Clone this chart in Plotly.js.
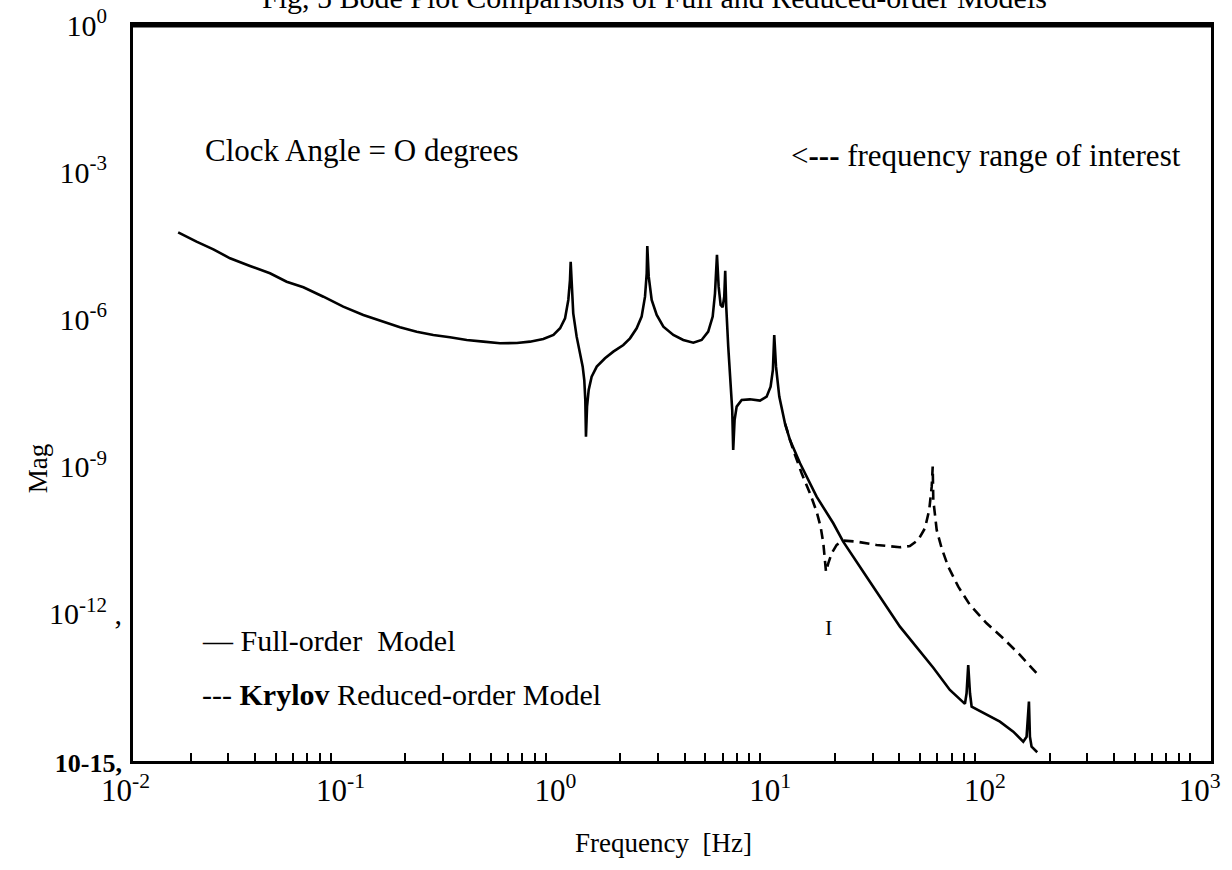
<!DOCTYPE html>
<html>
<head>
<meta charset="utf-8">
<script src="https://cdn.plot.ly/plotly-3.0.1.min.js"></script>
<style>html,body{margin:0;padding:0;background:#fff;}#chart{width:1232px;height:870px;}</style>
</head>
<body>
<div id="chart"></div>
<script>
// Full-order model (frequency in Hz, magnitude)
const fullFreq = [0.01751,0.02132,0.02554,0.03054,0.03783,0.04687,0.05604,0.06707,0.08312,0.1028,0.1275,0.1582,0.1889,0.2260,0.2700,0.3227,0.3865,0.4621,0.5524,0.6615,0.7609,0.8784,0.9792,1.0517,1.1089,1.1485,1.1693,1.1781,
  1.190,1.211,1.256,1.302,1.340,1.363,1.378,1.388,1.404,1.429,1.475,1.558,1.702,1.861,2.072,2.226,2.390,2.521,2.614,2.662,2.679,
  2.720,2.808,2.963,3.183,3.542,3.939,4.389,4.798,5.148,5.401,5.536,5.655,5.757,5.881,6.009,6.113,6.178,6.246,6.381,6.545,6.659,6.730,6.831,6.985,7.369,8.052,8.967,9.631,10.05,10.30,10.45,10.65,11.03,11.72,12.37,
  13.78,16.46,19.68,21.89,28.12,40.22,57.52,68.72,80.74,82.18,83.65,85.24,86.77,101.9,117.5,135.6,150.9,156.4,160.4,162.1,165.0,175.3];
const fullMag  = [5.96e-5,3.84e-5,2.68e-5,1.76e-5,1.23e-5,8.71e-6,5.87e-6,4.51e-6,2.90e-6,1.82e-6,1.23e-6,9.0e-7,6.9e-7,5.62e-7,4.82e-7,4.32e-7,3.81e-7,3.52e-7,3.26e-7,3.30e-7,3.52e-7,3.99e-7,4.82e-7,6.59e-7,1.05e-6,2.49e-6,6.35e-6,1.5e-5,
  4.65e-6,1.33e-6,4.45e-7,2.04e-7,1.09e-7,5.82e-8,2.28e-8,4.07e-9,1.67e-8,3.65e-8,6.81e-8,1.09e-7,1.61e-7,2.20e-7,3.01e-7,4.12e-7,6.59e-7,1.14e-6,2.90e-6,8.69e-6,3.13e-5,
  7.43e-6,2.49e-6,1.23e-6,7.11e-7,4.82e-7,3.81e-7,3.36e-7,3.81e-7,5.62e-7,1.14e-6,3.40e-6,2.06e-5,4.65e-6,1.97e-6,1.77e-6,2.90e-6,9.84e-6,1.82e-6,2.78e-7,5.82e-8,1.43e-8,2.18e-9,8.91e-9,1.67e-8,2.28e-8,2.35e-8,2.21e-8,2.67e-8,4.26e-8,9.31e-8,4.82e-7,1.09e-7,2.67e-8,7.64e-9,3.49e-9,
  1.17e-9,2.44e-10,7.00e-11,2.96e-11,5.71e-12,5.47e-13,7.94e-14,2.81e-14,1.46e-14,2.40e-14,9.06e-14,2.40e-14,1.28e-14,8.67e-15,6.34e-15,3.96e-15,2.48e-15,3.13e-15,1.62e-14,3.13e-15,1.96e-15,1.51e-15];
// Krylov reduced-order model
const redFreq = [11.72,12.37,12.81,14.02,15.33,16.46,17.18,17.69,18.01,18.20,18.65,19.34,20.41,21.89,25.26,31.29,40.22,44.75,48.94,52.58,55.06,56.55,57.15,57.52,59.65,62.92,67.50,75.19,85.24,101.9,121.7,145.6,177.2];
const redMag  = [7.64e-9,3.49e-9,2.18e-9,7.31e-10,2.86e-10,1.21e-10,5.97e-11,2.74e-11,1.07e-11,7.23e-12,1.07e-11,1.71e-11,2.53e-11,3.10e-11,2.96e-11,2.53e-11,2.27e-11,2.41e-11,3.20e-11,5.53e-11,1.31e-10,3.90e-10,9.98e-10,2.09e-10,5.12e-11,2.16e-11,9.14e-12,3.57e-12,1.51e-12,6.41e-13,3.17e-13,1.45e-13,5.68e-14];
// Tick labels
const xRange = [-1.967, 3.053];
const xTickVals = [0.1,1,10,100,1000];
const xTickText = ['10<sup>-1</sup>','10<sup>0</sup>','10<sup>1</sup>','10<sup>2</sup>','10<sup>3</sup>'];
const xFirstDecade = -2;
const xFirstLabel = '10<sup>-2</sup>';   // decade just left of the frame edge
const yTickVals = [1,1e-3,1e-6,1e-9,1e-12,1e-15];
const yTickText = ['10<sup>0</sup>&nbsp;&nbsp;','10<sup>-3</sup>&nbsp;&nbsp;','10<sup>-6</sup>&nbsp;&nbsp;','10<sup>-9</sup>&nbsp;&nbsp;','10<sup>-12</sup> ,','<b><span style="font-size:26px">10-15,</span></b>'];

const minorX = [];
for (let e = -2; e < 3; e++) for (let k = 2; k <= 9; k++) minorX.push(k * Math.pow(10, e));

const serif = 'Liberation Serif, Times New Roman, serif';

const traces = [
  {x: fullFreq, y: fullMag, type: 'scatter', mode: 'lines', name: 'Full-order Model',
   line: {color: '#000', width: 2.6}},
  {x: redFreq, y: redMag, type: 'scatter', mode: 'lines', name: 'Krylov Reduced-order Model',
   line: {color: '#000', width: 2.6, dash: '10px,6px'}}
];

const layout = {
  width: 1232, height: 870,
  margin: {l: 133, r: 21, t: 25, b: 109},
  paper_bgcolor: '#fff', plot_bgcolor: '#fff',
  showlegend: false,
  font: {family: serif, color: '#000'},
  xaxis: {
    type: 'log', range: xRange, tickmode: 'array', tickvals: xTickVals, ticktext: xTickText,
    ticks: '', showgrid: false, zeroline: false, showline: true, mirror: true,
    linecolor: '#000', linewidth: 3, tickfont: {family: serif, size: 31},
    minor: {tickmode: 'array', tickvals: minorX, ticks: 'inside', ticklen: 8, tickwidth: 2, tickcolor: '#000', showgrid: false},
    automargin: false
  },
  yaxis: {
    type: 'log', range: [-15, 0], tickmode: 'array', tickvals: yTickVals, ticktext: yTickText,
    ticks: '', showgrid: false, zeroline: false, showline: true, mirror: true,
    linecolor: '#000', linewidth: 3, tickfont: {family: serif, size: 30},
    ticklabelstandoff: 2,
    automargin: false
  },
  shapes: [
    {type: 'line', xref: 'paper', yref: 'paper', x0: 0, x1: 1, y0: 1, y1: 1, line: {color: '#000', width: 5}}
  ],
  annotations: [
    {text: xFirstLabel, xref: 'paper', yref: 'paper', x: (xFirstDecade - xRange[0]) / (xRange[1] - xRange[0]), y: -0.0367,
     xanchor: 'center', yanchor: 'middle', showarrow: false, font: {family: serif, size: 31}},
    {text: 'Fig, 5 Bode Plot Comparisons of Full and Reduced-order Models', xref: 'paper', yref: 'paper',
     x: 0.484, y: 1.037, xanchor: 'center', yanchor: 'middle', showarrow: false, font: {family: serif, size: 30}},
    {text: 'Mag', xref: 'paper', yref: 'paper', x: -0.088, y: 0.398, textangle: -90,
     xanchor: 'center', yanchor: 'middle', showarrow: false, font: {family: serif, size: 27}},
    {text: 'Frequency  [Hz]', xref: 'paper', yref: 'paper', x: 0.492, y: -0.111,
     xanchor: 'center', yanchor: 'middle', showarrow: false, font: {family: serif, size: 27}},
    {text: 'Clock Angle = O degrees', xref: 'paper', yref: 'paper', x: 0.065, y: 0.830,
     xanchor: 'left', yanchor: 'middle', showarrow: false, font: {family: serif, size: 31}},
    {text: '&lt;<b>---</b> frequency range of interest', xref: 'paper', yref: 'paper', x: 0.974, y: 0.823,
     xanchor: 'right', yanchor: 'middle', showarrow: false, font: {family: serif, size: 31}},
    {text: '— Full-order  Model', xref: 'paper', yref: 'paper', x: 0.062, y: 0.164,
     xanchor: 'left', yanchor: 'middle', showarrow: false, font: {family: serif, size: 30}},
    {text: '--- <b>Krylov</b> Reduced-order Model', xref: 'paper', yref: 'paper', x: 0.062, y: 0.091,
     xanchor: 'left', yanchor: 'middle', showarrow: false, font: {family: serif, size: 30}},
    {text: 'I', xref: 'paper', yref: 'paper', x: 0.645, y: 0.182,
     xanchor: 'center', yanchor: 'middle', showarrow: false, font: {family: serif, size: 22}}
  ]
};

Plotly.newPlot('chart', traces, layout, {displayModeBar: false, staticPlot: true});
</script>
</body>
</html>
